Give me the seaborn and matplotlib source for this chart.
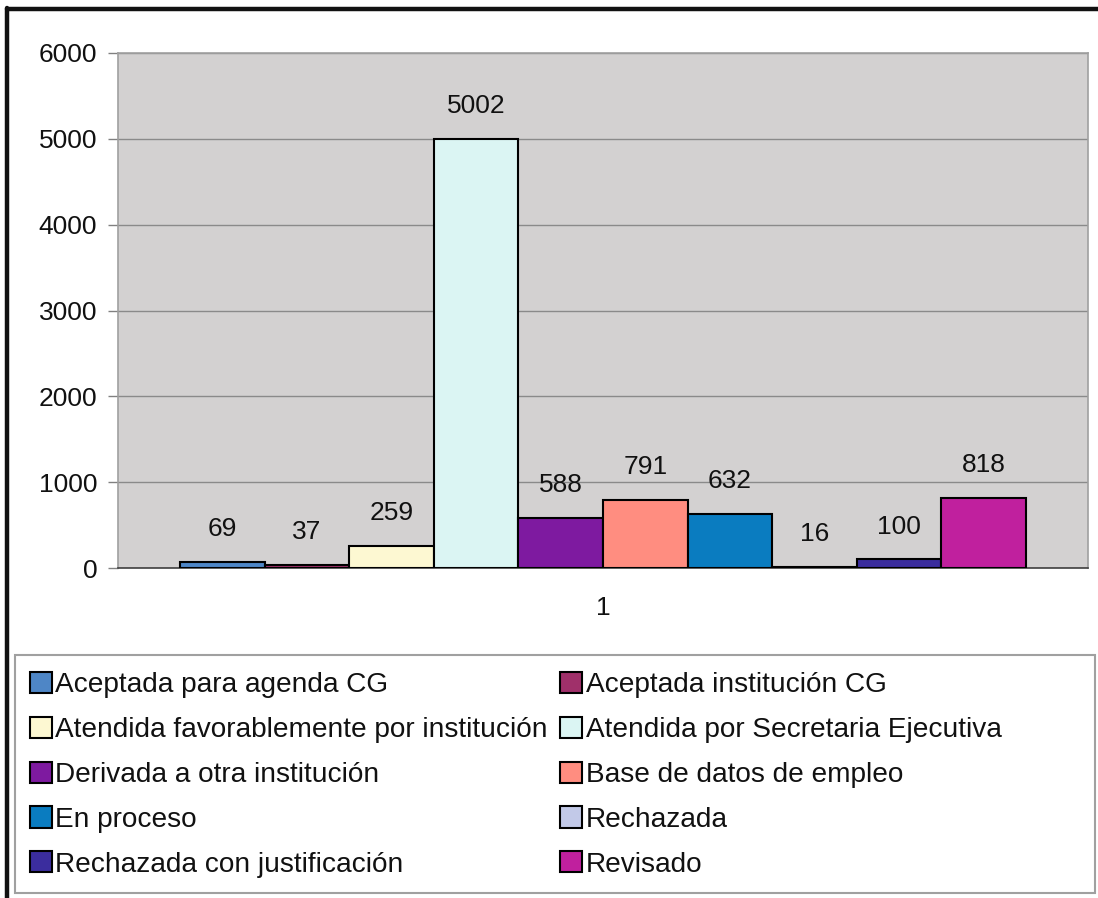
import matplotlib
matplotlib.use("Agg")
import matplotlib.pyplot as plt
import seaborn as sns
import pandas as pd
from matplotlib.patches import Rectangle
from matplotlib.lines import Line2D

categories = [
    "Aceptada para agenda CG",
    "Aceptada institución CG",
    "Atendida favorablemente por institución",
    "Atendida por Secretaria Ejecutiva",
    "Derivada a otra institución",
    "Base de datos de empleo",
    "En proceso",
    "Rechazada",
    "Rechazada con justificación",
    "Revisado",
]
values = [69, 37, 259, 5002, 588, 791, 632, 16, 100, 818]
group_labels = ["1"]
colors = ["#4e86c6", "#a0306a", "#fdf8d2", "#dbf5f3", "#7e1aa0",
          "#ff8d80", "#0a7cc0", "#c2c9e8", "#3b2d9e", "#c0209e"]
y_ticks = [0, 1000, 2000, 3000, 4000, 5000, 6000]

df = pd.DataFrame({"grupo": group_labels * len(categories),
                   "estado": categories, "valor": values})

sns.set_style("white")
plt.rcParams["font.family"] = ["Liberation Sans", "DejaVu Sans"]

fig = plt.figure(figsize=(10.98, 8.98), dpi=100)
ax = fig.add_axes([118 / 1098, 1 - 568 / 898, 970 / 1098, 515 / 898])
ax.set_facecolor("#d3d1d1")

sns.barplot(data=df, x="grupo", y="valor", hue="estado", hue_order=categories,
            palette=colors, saturation=1, width=0.8, edgecolor="black", linewidth=1.5,
            errorbar=None, legend=False, ax=ax, zorder=3)

ax.set_xlim(-0.459, 0.459)
ax.set_ylim(0, 6000)
ax.set_yticks(y_ticks)
ax.set_yticklabels([str(t) for t in y_ticks])
ax.yaxis.grid(True, color="#8a8a8a", linewidth=1.0, zorder=0)
ax.set_axisbelow(True)
ax.set_xlabel("")
ax.set_ylabel("")
ax.tick_params(axis="x", length=0, pad=20, labelsize=19, labelcolor="#111111")
ax.tick_params(axis="y", length=7, width=1, color="#808080", pad=8, labelsize=19,
               labelcolor="#111111", left=True)
for s in ["top", "right", "left"]:
    ax.spines[s].set_color("#a0a0a0")
    ax.spines[s].set_linewidth(1.2)
ax.spines["bottom"].set_color("#404040")
ax.spines["bottom"].set_linewidth(1.2)

for c in ax.containers:
    ax.bar_label(c, labels=[str(int(v)) for v in c.datavalues], padding=15,
                 fontsize=19, color="#111111")

# legend box
fig.add_artist(Rectangle((15 / 1098, 1 - 893 / 898), 1080 / 1098, 238 / 898,
                         transform=fig.transFigure, facecolor="white",
                         edgecolor="#a0a0a0", linewidth=1.5))
handles = [c.patches[0] for c in ax.containers]
order = [0, 2, 4, 6, 8, 1, 3, 5, 7, 9]
leg = fig.legend([handles[i] for i in order], [categories[i] for i in order],
                 loc="upper left", bbox_to_anchor=(30 / 1098, 1 - 672 / 898),
                 ncol=2, frameon=False, fontsize=20.2, handlelength=0.78,
                 handleheight=0.78, handletextpad=0.12, labelspacing=0.66,
                 columnspacing=0.45, borderpad=0, borderaxespad=0)
for t in leg.get_texts():
    t.set_color("#111111")

# black frame edges (left and top)
fig.add_artist(Line2D([7 / 1098, 7 / 1098], [0, 1 - 8 / 898], transform=fig.transFigure,
                      color="#111111", linewidth=3.2))
fig.add_artist(Line2D([7 / 1098, 1], [1 - 8.5 / 898, 1 - 8.5 / 898], transform=fig.transFigure,
                      color="#111111", linewidth=3.2))

fig.savefig("out.png", dpi=100)
